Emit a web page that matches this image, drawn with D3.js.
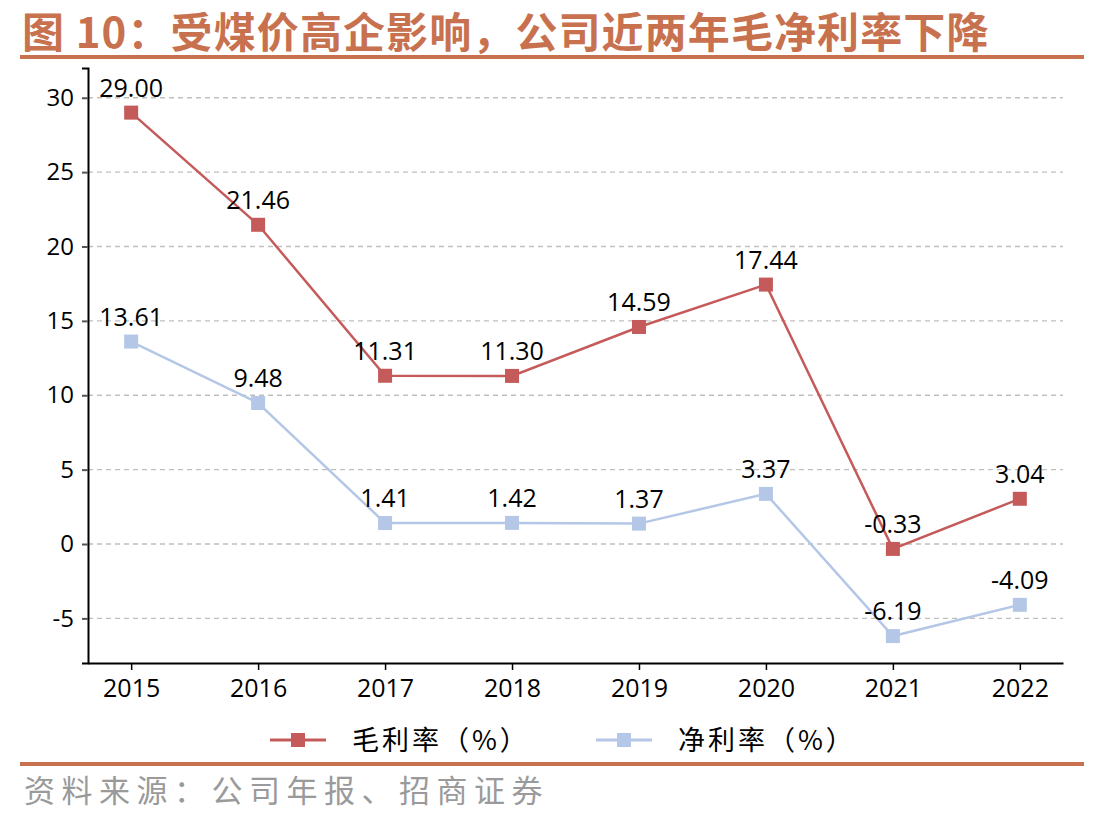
<!DOCTYPE html>
<html>
<head>
<meta charset="utf-8">
<script src="https://cdn.jsdelivr.net/npm/d3@7"></script>
<style>
  body { margin: 0; background: #ffffff; }
  text { font-family: "Noto Sans CJK SC", "Noto Sans", sans-serif; }
</style>
</head>
<body>
<div id="viz-container"></div>
<script>
let w = 1104;
let h = 824;

const years = ["2015", "2016", "2017", "2018", "2019", "2020", "2021", "2022"];
const grossMargin = [29.00, 21.46, 11.31, 11.30, 14.59, 17.44, -0.33, 3.04];
const netMargin = [13.61, 9.48, 1.41, 1.42, 1.37, 3.37, -6.19, -4.09];
const yTicks = [-5, 0, 5, 10, 15, 20, 25, 30];
const seriesNames = ["毛利率（%）", "净利率（%）"];
const titleText = "图 10：受煤价高企影响，公司近两年毛净利率下降";
const sourceText = "资料来源：公司年报、招商证券";

const brown = "#c8714f";
const red = "#c55a5a";
const blue = "#b4c7e7";

let viz = d3.select("#viz-container")
  .append("svg")
  .attr("width", w)
  .attr("height", h)
  .style("background-color", "#ffffff");

// title + rules
viz.append("text")
  .text(titleText)
  .attr("x", 22)
  .attr("y", 48)
  .attr("font-size", 42)
  .attr("font-weight", 700)
  .attr("letter-spacing", 1.1)
  .attr("fill", brown);

viz.append("line")
  .attr("x1", 20).attr("x2", 1084)
  .attr("y1", 57).attr("y2", 57)
  .attr("stroke", brown)
  .attr("stroke-width", 4);

viz.append("line")
  .attr("x1", 20).attr("x2", 1084)
  .attr("y1", 764).attr("y2", 764)
  .attr("stroke", brown)
  .attr("stroke-width", 4);

viz.append("text")
  .text(sourceText)
  .attr("x", 24)
  .attr("y", 802)
  .attr("font-size", 31)
  .attr("letter-spacing", 6.5)
  .attr("fill", "#9a9a9a");

// scales
let plotLeft = 88, plotRight = 1063, plotTop = 68, plotBottom = 663;
let x = d3.scalePoint().domain(years).range([plotLeft, plotRight]).padding(0.34);
let y = d3.scaleLinear().domain([-8, 32]).range([plotBottom, plotTop]);

// grid
viz.append("g")
  .selectAll("line")
  .data(yTicks)
  .enter().append("line")
  .attr("x1", plotLeft).attr("x2", plotRight)
  .attr("y1", d => y(d)).attr("y2", d => y(d))
  .attr("stroke", "#bfbfbf")
  .attr("stroke-width", 1.3)
  .attr("stroke-dasharray", "5,4");

// axes
let yAxis = viz.append("g")
  .attr("transform", `translate(${plotLeft},0)`)
  .call(d3.axisLeft(y).tickValues(yTicks).tickFormat(d => String(d)).tickSize(6).tickPadding(8));
yAxis.select(".domain").attr("stroke", "#000").attr("stroke-width", 2);
yAxis.selectAll(".tick line").attr("stroke", "#555").attr("stroke-width", 2);
yAxis.selectAll("text")
  .attr("font-size", 24)
  .attr("fill", "#000")
  .style("font-family", "'Open Sans', sans-serif");

let xAxis = viz.append("g")
  .attr("transform", `translate(0,${plotBottom})`)
  .call(d3.axisBottom(x).tickSize(7).tickPadding(9).tickSizeOuter(0));
xAxis.select(".domain").attr("stroke", "#000").attr("stroke-width", 2);
xAxis.selectAll(".tick line").attr("stroke", "#000").attr("stroke-width", 1.5);
xAxis.selectAll("text")
  .attr("font-size", 25)
  .attr("fill", "#000")
  .style("font-family", "'Open Sans', sans-serif");

// series
let series = [
  { name: seriesNames[0], values: grossMargin, color: red },
  { name: seriesNames[1], values: netMargin, color: blue }
];

let lineMaker = d3.line()
  .x((d, i) => x(years[i]))
  .y(d => y(d));

series.slice().reverse().forEach(s => {
  viz.append("path")
    .datum(s.values)
    .attr("d", lineMaker)
    .attr("fill", "none")
    .attr("stroke", s.color)
    .attr("stroke-width", 2.5);
  viz.selectAll(null)
    .data(s.values)
    .enter().append("rect")
    .attr("x", (d, i) => x(years[i]) - 7)
    .attr("y", d => y(d) - 7)
    .attr("width", 14)
    .attr("height", 14)
    .attr("fill", s.color);
  viz.selectAll(null)
    .data(s.values)
    .enter().append("text")
    .text(d => d.toFixed(2))
    .attr("x", (d, i) => x(years[i]))
    .attr("y", d => y(d) - 16)
    .attr("text-anchor", "middle")
    .attr("font-size", 25)
    .attr("fill", "#000")
    .style("font-family", "'Open Sans', sans-serif");
});

// legend
let legendX = [270, 596];
series.forEach((s, i) => {
  let g = viz.append("g").attr("transform", `translate(${legendX[i]},740)`);
  g.append("line")
    .attr("x1", 0).attr("x2", 56)
    .attr("y1", 0).attr("y2", 0)
    .attr("stroke", s.color)
    .attr("stroke-width", 3);
  g.append("rect")
    .attr("x", 21).attr("y", -7)
    .attr("width", 14).attr("height", 14)
    .attr("fill", s.color);
  g.append("text")
    .text(s.name)
    .attr("x", 82)
    .attr("y", 10)
    .attr("font-size", 27)
    .attr("letter-spacing", 3)
    .attr("fill", "#000");
});
</script>
</body>
</html>
